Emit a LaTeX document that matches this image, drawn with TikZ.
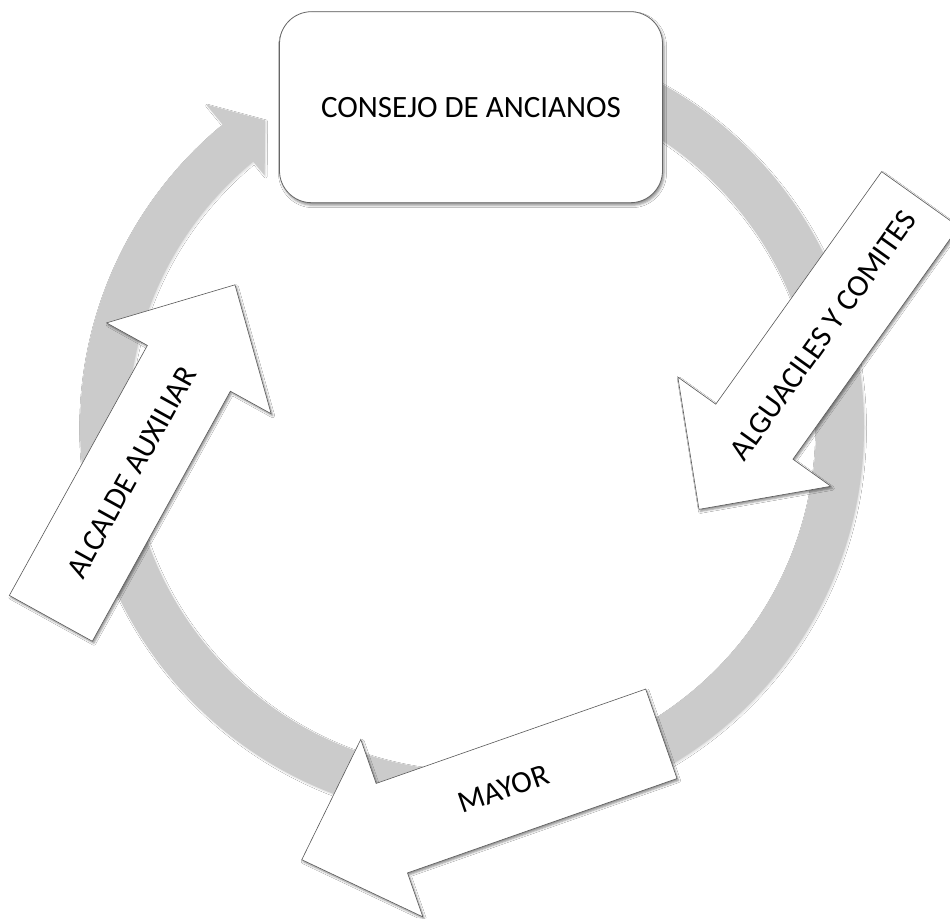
\documentclass[tikz,border=0pt]{standalone}
\usepackage{fontspec}
\setmainfont{Carlito}
\usetikzlibrary{calc,shadows.blur}
\definecolor{ringgray}{HTML}{CBCBCB}
\definecolor{edgegray}{HTML}{5A5A5A}
\tikzset{
  ringstyle/.style={fill=ringgray, blur shadow={shadow xshift=1pt, shadow yshift=-1.2pt, shadow blur radius=1.5pt, shadow opacity=15}},
  blk/.style={fill=white, draw=edgegray, line width=0.6pt, blur shadow={shadow xshift=1.5pt, shadow yshift=-2pt, shadow blur radius=2pt, shadow opacity=45}},
  topbox/.style={fill=white, draw=black!60, line width=0.8pt, rounded corners=32pt, minimum width=383pt, minimum height=191pt, blur shadow={shadow xshift=1.5pt, shadow yshift=-2.5pt, shadow blur radius=2.5pt, shadow opacity=45}},
  lbl/.style={font=\fontsize{31}{37}\selectfont, inner sep=0pt}
}
\newcommand\blkarrow[3]{%
  \begin{scope}[shift={#2}, rotate=#3]
    \filldraw[blk] (0,-47.4) -- (285.6,-47.4) -- (285.6,-94) -- (381,0) -- (285.6,94) -- (285.6,47.4) -- (0,47.4) -- cycle;
    \coordinate (#1) at (167,0);
  \end{scope}}
\begin{document}
\begin{tikzpicture}[x=1pt,y=1pt]
\useasboundingbox (0,0) rectangle (950,918);
\clip (0,0) rectangle (950,918);
\fill[white] (0,0) rectangle (950,918);
\coordinate (rc) at (472,491);
% ring with arrow head
\path[ringstyle] ([shift={(90:392)}]rc) arc[start angle=90, end angle=-230.5, radius=392]
  -- ([shift={(129.5:418)}]rc) -- ([shift={(124:370)}]rc) -- ([shift={(129.5:326)}]rc)
  -- ([shift={(129.5:344)}]rc) arc[start angle=-230.5, end angle=90, radius=344] -- cycle;
% top box
\node[topbox] (consejo) at (471,810.8) {};
\node[lbl] (consejotxt) at (consejo.center) {CONSEJO DE ANCIANOS};
% block arrows
\blkarrow{algc}{(920.2,718.8)}{-125.5}
\node[lbl, rotate=54.5] (alg) at (algc) {ALGUACILES Y COMITES};
\blkarrow{mayc}{(661.35,184.2)}{199.3}
\node[lbl, rotate=19.3] (may) at (mayc) {MAYOR};
\blkarrow{alcc}{(50.85,299.65)}{61.1}
\node[lbl, rotate=61.1] (alc) at (alcc) {ALCALDE AUXILIAR};
\end{tikzpicture}
\end{document}
